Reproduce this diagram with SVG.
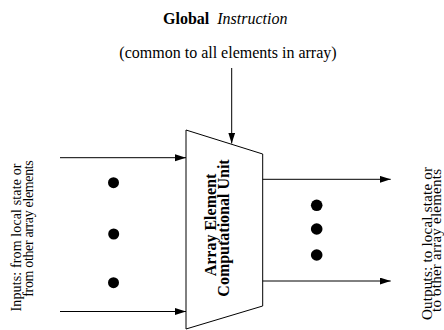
<svg xmlns="http://www.w3.org/2000/svg" width="444" height="330" viewBox="0 0 444 330">
  <defs>
    <marker id="arrow" markerUnits="userSpaceOnUse" markerWidth="12" markerHeight="8" refX="11" refY="3.5" orient="auto">
      <path d="M0,0 L11,3.5 L0,7 z" fill="#000"/>
    </marker>
  </defs>
  <style>
    .t { font-family: "Liberation Serif", "Times New Roman", serif; fill: #000; }
    .conn { stroke: #000; stroke-width: 1; fill: none; marker-end: url(#arrow); }
    .dot { fill: #000; }
  </style>
  <rect width="444" height="330" fill="#fff"/>

  <g id="title">
    <text class="t" x="163" y="23.5" font-size="16"><tspan font-weight="bold">Global</tspan><tspan dx="8" font-style="italic">Instruction</tspan></text>
    <text class="t" x="228" y="58" font-size="16" text-anchor="middle">(common to all elements in array)</text>
  </g>

  <g id="unit">
    <polygon points="186,130 262.7,154 262.7,306 186,329" fill="#fff" stroke="#000" stroke-width="1"/>
    <text class="t" font-size="16" font-weight="bold" text-anchor="middle" transform="translate(216,225) rotate(-90)">Array Element</text>
    <text class="t" font-size="16" font-weight="bold" text-anchor="middle" transform="translate(229.3,228) rotate(-90)">Computational Unit</text>
  </g>

  <g id="inputs">
    <text class="t" font-size="14" textLength="148" transform="translate(20.5,311.5) rotate(-90)">Inputs:  from local state or</text>
    <text class="t" font-size="14" textLength="136.5" transform="translate(32.5,296.7) rotate(-90)">from other array elements</text>
    <circle class="dot" cx="113.5" cy="182.7" r="5.5"/>
    <circle class="dot" cx="113.7" cy="234" r="5.5"/>
    <circle class="dot" cx="113.5" cy="282.7" r="5.5"/>
  </g>

  <g id="outputs">
    <text class="t" font-size="15" textLength="153" transform="translate(431.5,320) rotate(-90)">Outputs:  to local state or</text>
    <text class="t" font-size="15" textLength="143" transform="translate(440.5,312) rotate(-90)">to other array elements</text>
    <circle class="dot" cx="316.7" cy="205.3" r="5.8"/>
    <circle class="dot" cx="316.7" cy="229" r="5.8"/>
    <circle class="dot" cx="316.7" cy="255" r="5.8"/>
  </g>

  <g id="connectors">
    <line class="conn" x1="231.7" y1="68" x2="231.7" y2="143.5"/>
    <line class="conn" x1="60" y1="157.7" x2="186" y2="157.7"/>
    <line class="conn" x1="60" y1="311.5" x2="186" y2="311.5"/>
    <line class="conn" x1="262.7" y1="179.3" x2="390.7" y2="179.3"/>
    <line class="conn" x1="262.7" y1="281" x2="390.7" y2="281"/>
  </g>
</svg>
